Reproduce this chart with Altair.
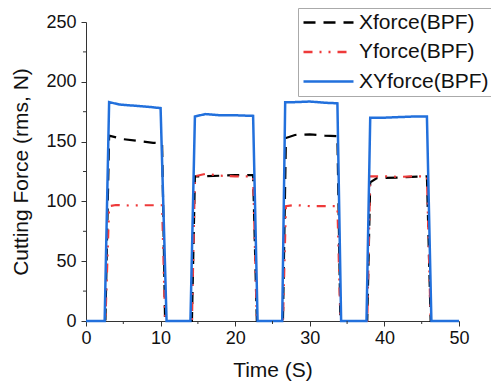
import altair as alt
import pandas as pd

# ---- data ----
series_names = ["Xforce(BPF)", "Yforce(BPF)", "XYforce(BPF)"]
series_colors = ["#000000", "#ee3a3a", "#2270dc"]
series_dash = [[12, 8], [9, 7, 2, 7, 2, 7], [1, 0]]

time_x = [0, 2.6, 3.1, 5, 7, 9, 10.2, 10.6, 14.2, 14.6, 16, 18, 20, 22.4, 22.9,
          26.4, 26.8, 28, 30, 32, 33.7, 34.1, 37.7, 38.1, 39, 42, 45.7, 46.2, 50]
force_x = [0, 0, 155, 152, 150.5, 149, 148.5, 0, 0, 121, 121, 121.5, 122, 122, 0,
           0, 153, 155.5, 156, 155, 154.5, 0, 0, 116, 119.5, 120, 121, 0, 0]

time_y = [0, 2.6, 3.1, 4, 6, 8, 10.2, 10.6, 14.2, 14.6, 16, 18, 20, 22.4, 22.9,
          26.4, 26.8, 28, 30, 32, 33.7, 34.1, 37.7, 38.1, 40, 42, 44, 45.7, 46.2, 50]
force_y = [0, 0, 96, 97, 96.5, 96.8, 96.8, 0, 0, 121, 123, 121.5, 121, 121, 0,
           0, 96, 97, 96, 96, 96, 0, 0, 121, 121, 120.5, 121, 121, 0, 0]

time_xy = [0, 2.5, 3.1, 4.5, 6.5, 8.5, 10.0, 10.8, 14.0, 14.6, 16, 18, 20, 22.4, 23.0,
           26.3, 26.7, 28, 30, 32, 33.7, 34.2, 37.6, 38.1, 40, 42, 44, 45.7, 46.3, 50]
force_xy = [0, 0, 183, 181, 180, 179, 178, 0, 0, 171, 173, 172, 172, 171.5, 0,
            0, 183, 183, 183.5, 182.5, 182, 0, 0, 170, 170, 170.5, 171, 171, 0, 0]

x_major = [0, 10, 20, 30, 40, 50]
x_minor = [5, 15, 25, 35, 45]
y_major = [0, 50, 100, 150, 200, 250]
y_minor = [25, 75, 125, 175, 225]

rows = []
for name, ts, fs in [(series_names[0], time_x, force_x),
                     (series_names[1], time_y, force_y),
                     (series_names[2], time_xy, force_xy)]:
    for i, (t, f) in enumerate(zip(ts, fs)):
        rows.append({"series": name, "t": t, "f": f, "i": i})
df = pd.DataFrame(rows)

FONT = "Liberation Sans"
W, H = 373, 299

xscale = alt.Scale(domain=[0, 50], nice=False, zero=False)
yscale = alt.Scale(domain=[0, 250], nice=False)

legend = alt.Legend(orient="none", legendX=212, legendY=-14)


def series_layer(name, width):
    return alt.Chart(df).transform_filter(
        alt.datum.series == name
    ).mark_line(strokeWidth=width, strokeCap="butt").encode(
        x=alt.X("t:Q", scale=xscale, title="Time (S)",
                axis=alt.Axis(values=x_major, format="d")),
        y=alt.Y("f:Q", scale=yscale, title="Cutting Force (rms, N)",
                axis=alt.Axis(values=y_major, format="d")),
        color=alt.Color("series:N",
                        scale=alt.Scale(domain=series_names, range=series_colors),
                        title=None, legend=legend),
        strokeDash=alt.StrokeDash("series:N",
                                  scale=alt.Scale(domain=series_names, range=series_dash),
                                  title=None, legend=legend),
        order=alt.Order("i:Q"),
    )


layers = [series_layer(series_names[0], 2.2),
          series_layer(series_names[1], 2.2),
          series_layer(series_names[2], 2.5)]

xminor_df = pd.DataFrame({"v": x_minor})
yminor_df = pd.DataFrame({"v": y_minor})

xminor = alt.Chart(xminor_df).mark_rule(color="#333333", strokeWidth=1).encode(
    x=alt.X("v:Q", scale=xscale), y=alt.value(H), y2=alt.value(H + 3))
yminor = alt.Chart(yminor_df).mark_rule(color="#333333", strokeWidth=1).encode(
    y=alt.Y("v:Q", scale=yscale), x=alt.value(-3), x2=alt.value(0))

chart = alt.layer(*layers, xminor, yminor).properties(
    width=W, height=H,
    autosize=alt.AutoSizeParams(type="none"),
    padding={"left": 86, "top": 22, "right": 32, "bottom": 62},
).configure_view(stroke=None).configure_axis(
    grid=False,
    domainColor="#333333",
    tickColor="#333333",
    tickSize=5,
    labelFont=FONT, labelFontSize=18, labelColor="#111111",
    titleFont=FONT, titleFontSize=21, titleFontWeight="normal", titleColor="#111111",
).configure_axisX(labelPadding=3, titlePadding=12, labelFlush=False
).configure_axisY(labelPadding=5, titlePadding=14
).configure_legend(
    symbolType="M-1.8,0H8.2", symbolSize=100, symbolStrokeWidth=2.5,
    symbolFillColor="transparent",
    labelFont=FONT, labelFontSize=21, labelColor="#111111", labelLimit=400,
    labelOffset=36, rowPadding=7.5, padding=4,
    strokeColor="#aaaaaa", fillColor="white",
)

chart.save("out.html", embed_options={"renderer": "svg", "actions": False})
